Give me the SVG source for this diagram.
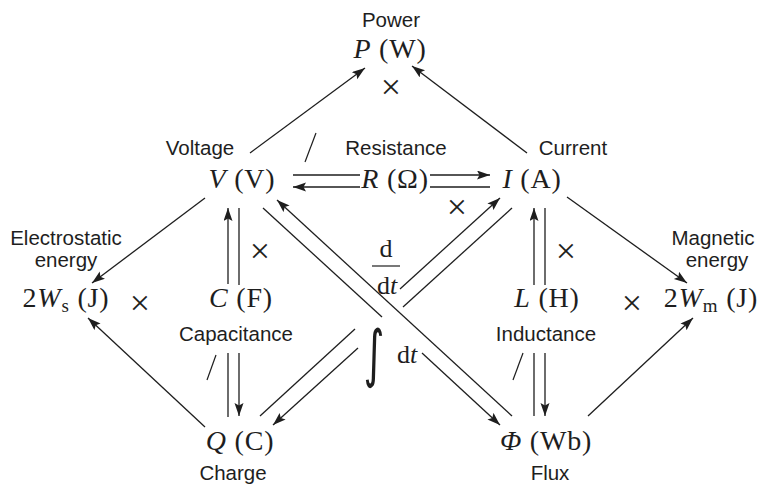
<svg xmlns="http://www.w3.org/2000/svg" width="765" height="489" viewBox="0 0 765 489">
<style>
.lbl{font-family:"Liberation Sans",Arial,sans-serif;font-size:20.5px;fill:#1e1e1e;text-anchor:middle}
.m{font-family:"Liberation Serif","Times New Roman",serif;font-size:28px;letter-spacing:0.8px;fill:#1e1e1e;text-anchor:middle}
.i{font-style:italic}
.op{font-family:"Liberation Serif","Times New Roman",serif;font-size:26px;fill:#1e1e1e;text-anchor:middle}
.x{font-family:"Liberation Serif","Times New Roman",serif;font-size:36px;fill:#1e1e1e;text-anchor:middle}
.ln{stroke:#1e1e1e;stroke-width:1.3;fill:none}
.ar{stroke:#1e1e1e;stroke-width:1.3;fill:none;marker-end:url(#ah)}
.sl{stroke:#1e1e1e;stroke-width:1.2;fill:none}
</style>
<defs>
<marker id="ah" markerUnits="userSpaceOnUse" markerWidth="14" markerHeight="10" refX="13" refY="4.5" orient="auto">
<path d="M0,0 L13,4.5 L0,9 L2.5,4.5 z" fill="#1e1e1e"/>
</marker>
</defs>
<rect width="765" height="489" fill="#fff"/>
<g id="connectors">
<line class="ar" x1="250" y1="153" x2="365" y2="68"/>
<line class="ar" x1="527" y1="153" x2="412" y2="66"/>
<line class="ln" x1="293" y1="175" x2="360" y2="175"/>
<line class="ar" x1="360" y1="187" x2="293" y2="187"/>
<line class="ar" x1="430" y1="175" x2="490" y2="175"/>
<line class="ln" x1="430" y1="187" x2="490" y2="187"/>
<line class="ar" x1="205" y1="198" x2="92" y2="283"/>
<line class="ar" x1="205" y1="427" x2="88" y2="318"/>
<line class="ar" x1="567" y1="197" x2="687" y2="283"/>
<line class="ar" x1="588" y1="416" x2="693" y2="318"/>
<line class="ar" x1="228" y1="284" x2="228" y2="208"/>
<line class="ln" x1="239" y1="208" x2="239" y2="285"/>
<line class="ar" x1="239" y1="353" x2="239" y2="416"/>
<line class="ln" x1="228" y1="353" x2="228" y2="417"/>
<line class="ar" x1="534" y1="285" x2="534" y2="208"/>
<line class="ln" x1="545" y1="208" x2="545" y2="285"/>
<line class="ar" x1="545" y1="353" x2="545" y2="416"/>
<line class="ln" x1="534" y1="353" x2="534" y2="416"/>
<line class="ln" x1="263" y1="208" x2="382" y2="317"/>
<line class="ar" x1="422" y1="353" x2="500" y2="425"/>
<line class="ar" x1="512" y1="416" x2="277" y2="200"/>
<line class="ln" x1="260" y1="416" x2="355" y2="329"/>
<line class="ar" x1="400" y1="289" x2="500" y2="198"/>
<line class="ln" x1="512" y1="208" x2="403" y2="307"/>
<line class="ar" x1="358" y1="348" x2="273" y2="425"/>
</g>
<g id="power">
<text class="lbl" x="391" y="27">Power</text>
<text class="m" x="390" y="58"><tspan class="i">P</tspan> (W)</text>
</g>
<g id="voltage">
<text class="lbl" x="200" y="155">Voltage</text>
<text class="m" x="242" y="188"><tspan class="i">V</tspan> (V)</text>
</g>
<g id="resistance">
<text class="lbl" x="396" y="155">Resistance</text>
<text class="m" x="395" y="188"><tspan class="i">R</tspan> (Ω)</text>
</g>
<g id="current">
<text class="lbl" x="573" y="155">Current</text>
<text class="m" x="532" y="188"><tspan class="i">I</tspan> (A)</text>
</g>
<g id="electrostatic-energy">
<text class="lbl" x="66" y="245">Electrostatic</text>
<text class="lbl" x="66" y="267">energy</text>
<text class="m" x="66" y="307">2<tspan class="i">W</tspan><tspan font-size="19" dy="5">s</tspan><tspan dy="-5"> (J)</tspan></text>
</g>
<g id="capacitance">
<text class="m" x="241" y="307"><tspan class="i">C</tspan> (F)</text>
<text class="lbl" x="236" y="341">Capacitance</text>
</g>
<g id="inductance">
<text class="m" x="547" y="307"><tspan class="i">L</tspan> (H)</text>
<text class="lbl" x="546" y="341">Inductance</text>
</g>
<g id="magnetic-energy">
<text class="lbl" x="713" y="245">Magnetic</text>
<text class="lbl" x="717" y="267">energy</text>
<text class="m" x="711" y="307">2<tspan class="i">W</tspan><tspan font-size="19" dy="5">m</tspan><tspan dy="-5"> (J)</tspan></text>
</g>
<g id="charge">
<text class="m" x="240" y="450"><tspan class="i">Q</tspan> (C)</text>
<text class="lbl" x="233" y="480">Charge</text>
</g>
<g id="flux">
<text class="m" x="546" y="450"><tspan class="i">Φ</tspan> (Wb)</text>
<text class="lbl" x="550" y="480">Flux</text>
</g>
<g id="operators">
<text class="x" x="391" y="99">×</text>
<text class="x" x="457" y="219">×</text>
<text class="x" x="260" y="263">×</text>
<text class="x" x="566" y="263">×</text>
<text class="x" x="140" y="315">×</text>
<text class="x" x="632" y="315">×</text>
<line class="sl" x1="305" y1="162" x2="316" y2="133"/>
<line class="sl" x1="207" y1="380" x2="216" y2="355"/>
<line class="sl" x1="513" y1="380" x2="523" y2="353"/>
</g>
<g id="derivative">
<text class="op" x="386" y="257" font-size="24">d</text>
<line class="sl" x1="372" y1="266" x2="400" y2="266"/>
<text class="op" x="387" y="294" font-size="24">d<tspan class="i">t</tspan></text>
</g>
<g id="integral">
<text transform="translate(374,375) scale(0.8,1.25)" x="0" y="0" font-family="DejaVu Sans" font-size="50" font-style="italic" fill="#1e1e1e" text-anchor="middle">∫</text>
<text class="op" x="407" y="363" font-size="24">d<tspan class="i">t</tspan></text>
</g>
</svg>
